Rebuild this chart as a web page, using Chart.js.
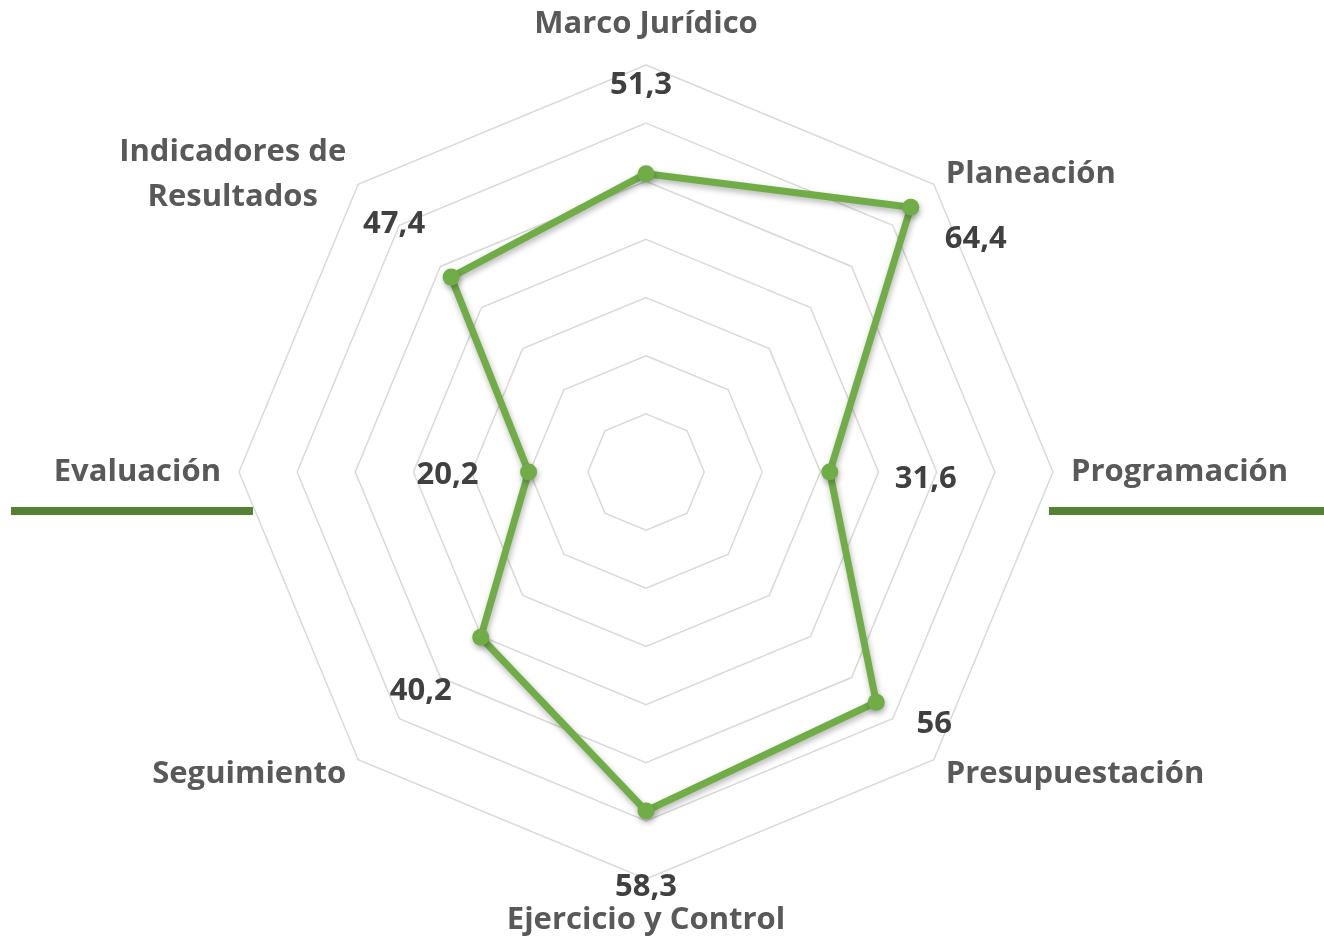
<!DOCTYPE html>
<html lang="es">
<head>
<meta charset="utf-8">
<title>Radar</title>
<script src="https://cdn.jsdelivr.net/npm/chart.js@4.4.1/dist/chart.umd.min.js"></script>
<style>
  body { margin: 0; background: #fff; }
  #wrap { position: relative; width: 1324px; height: 940px; }
  .rule { position: absolute; height: 8px; background: #548235; top: 507px; }
</style>
</head>
<body>
<div id="wrap">
  <canvas id="radarChart" width="1324" height="940"></canvas>
  <div class="rule" style="left:11px; width:242px;"></div>
  <div class="rule" style="left:1049px; width:275px;"></div>
</div>
<script>
const categories = [
    'Marco Jurídico',
    'Planeación',
    'Programación',
    'Presupuestación',
    'Ejercicio y Control',
    'Seguimiento',
    'Evaluación',
    ['Indicadores de', 'Resultados']
];
const values = [51.3, 64.4, 31.6, 56, 58.3, 40.2, 20.2, 47.4];
const scaleMax = 70;
const scaleStep = 10;

// where each value label sits relative to its point (px)
const valueLabelOffsets = [[-5, -89], [65, 32], [96, 7], [58, 22], [0, 76], [-60, 54], [-81, 3], [-57, -53]];

const labelFont = 'bold 31px "Open Sans"';

// Excel style drop shadow under the line
const shadowPlugin = {
    id: 'lineShadow',
    beforeDatasetDraw(chart) {
        const ctx = chart.ctx;
        ctx.save();
        ctx.shadowColor = 'rgba(0,0,0,0.3)';
        ctx.shadowBlur = 6;
        ctx.shadowOffsetX = 1;
        ctx.shadowOffsetY = 3;
    },
    afterDatasetDraw(chart) {
        chart.ctx.restore();
    }
};

const labelsPlugin = {
    id: 'radarLabels',
    afterDraw(chart) {
        const ctx = chart.ctx;
        const scale = chart.scales.r;
        const cx = scale.xCenter, cy = scale.yCenter;
        ctx.save();
        ctx.font = labelFont;
        ctx.textBaseline = 'middle';

        // category labels around the outer ring
        ctx.fillStyle = '#595959';
        categories.forEach((label, i) => {
            const v = scale.getPointPosition(i, scale.drawingArea);
            const dx = v.x - cx, dy = v.y - cy;
            const lines = Array.isArray(label) ? label : [label];
            const lineH = 45;
            let x = v.x, y = v.y + 2;
            const diag = Math.abs(dx) > 1 && Math.abs(dy) > 1;
            if (Math.abs(dx) <= 1) {
                y += dy < 0 ? -43 : 39;
            } else if (diag) {
                x += Math.sign(dx) * 12;
                y += Math.sign(dy) * 12;
            } else {
                x += Math.sign(dx) * 18;
                y -= 2;
            }
            const widths = lines.map(l => ctx.measureText(l).width);
            const blockW = Math.max(...widths);
            let centerX;
            if (Math.abs(dx) <= 1) centerX = x;
            else if (dx > 0) centerX = x + blockW / 2;
            else centerX = x - blockW / 2;
            ctx.textAlign = 'center';
            lines.forEach((l, k) => {
                const ly = y + (k - (lines.length - 1) / 2) * lineH;
                ctx.fillText(l, centerX, ly);
            });
        });

        // value labels
        ctx.fillStyle = '#404040';
        ctx.textAlign = 'center';
        const meta = chart.getDatasetMeta(0);
        meta.data.forEach((pt, i) => {
            const off = valueLabelOffsets[i];
            const txt = String(values[i]).replace('.', ',');
            ctx.fillText(txt, pt.x + off[0], pt.y + off[1]);
        });
        ctx.restore();
    }
};

new Chart(document.getElementById('radarChart').getContext('2d'), {
    type: 'radar',
    data: {
        labels: categories,
        datasets: [{
            data: values,
            borderColor: '#70AD47',
            backgroundColor: '#70AD47',
            pointBackgroundColor: '#70AD47',
            pointBorderColor: '#70AD47',
            borderWidth: 7,
            pointBorderWidth: 0,
            pointRadius: 8.5,
            fill: false,
            tension: 0
        }]
    },
    options: {
        responsive: false,
        animation: false,
        layout: {
            padding: { top: 65, bottom: 61, left: 0, right: 32 }
        },
        scales: {
            r: {
                min: 0,
                max: scaleMax,
                ticks: { display: false, stepSize: scaleStep },
                angleLines: { display: false },
                grid: { color: '#d9d9d9', lineWidth: 1.5 },
                pointLabels: { display: false }
            }
        },
        plugins: {
            legend: { display: false },
            tooltip: { enabled: false }
        }
    },
    plugins: [shadowPlugin, labelsPlugin]
});
</script>
</body>
</html>
